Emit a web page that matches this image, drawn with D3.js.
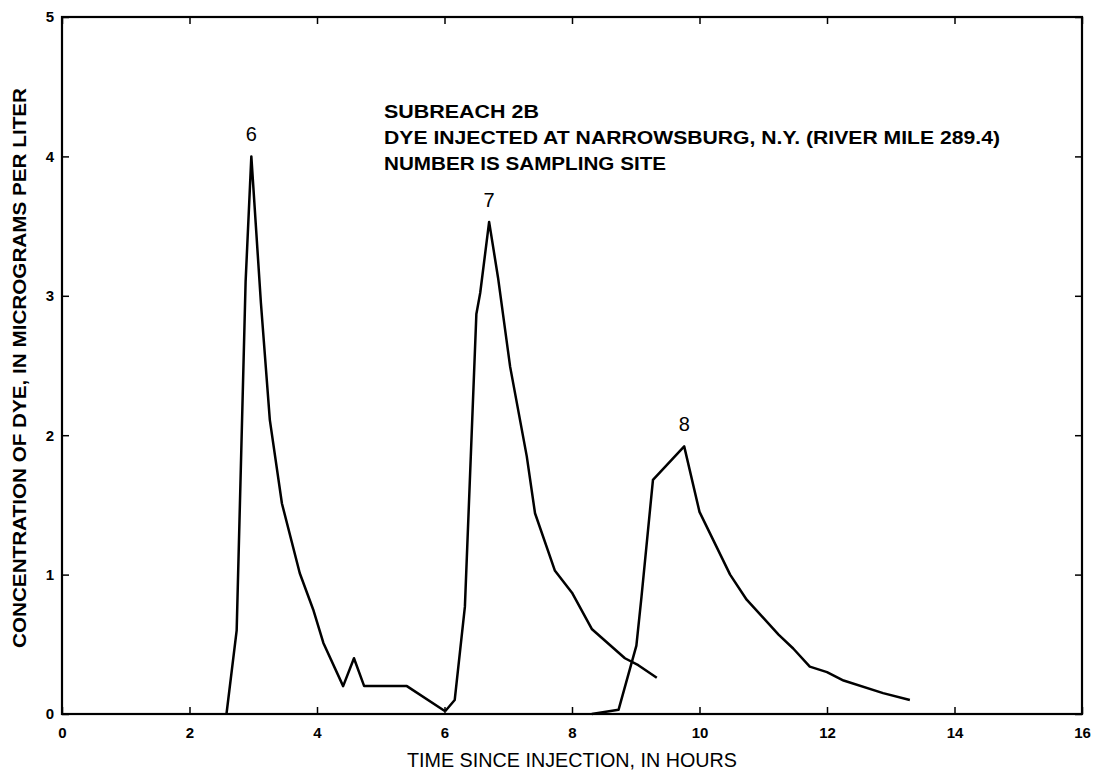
<!DOCTYPE html>
<html>
<head>
  <meta charset="utf-8" />
  <script src="https://d3js.org/d3.v7.min.js"></script>
</head>
<style>
body { margin: 0; background: #fff; }
text { font-family: "Liberation Sans", Arial, sans-serif; fill: #000; }
</style>
<body>
<div id="viz"></div>
<script>
'use strict';

// hours since injection / concentration (micrograms per liter)
const site6Time = [2.58, 2.74, 2.88, 2.97, 3.12, 3.26, 3.45, 3.73, 3.94, 4.10, 4.41, 4.58, 4.74, 5.41, 6.01];
const site6Conc = [0.0, 0.6, 3.1, 4.0, 2.95, 2.11, 1.51, 1.01, 0.75, 0.51, 0.20, 0.40, 0.20, 0.20, 0.02];

const site7Time = [6.01, 6.16, 6.32, 6.50, 6.56, 6.70, 6.84, 7.03, 7.29, 7.42, 7.73, 8.00, 8.31, 8.83, 9.04, 9.33];
const site7Conc = [0.02, 0.10, 0.77, 2.87, 3.02, 3.53, 3.13, 2.49, 1.85, 1.44, 1.03, 0.87, 0.61, 0.40, 0.35, 0.26];

const site8Time = [8.31, 8.73, 9.01, 9.09, 9.27, 9.76, 10.0, 10.48, 10.74, 11.24, 11.47, 11.73, 12.0, 12.26, 12.88, 13.30];
const site8Conc = [0.0, 0.03, 0.49, 0.84, 1.68, 1.92, 1.45, 1.0, 0.82, 0.57, 0.47, 0.34, 0.30, 0.24, 0.15, 0.10];

const sites = ['6', '7', '8'];
const xTicks = [0, 2, 4, 6, 8, 10, 12, 14, 16];
const yTicks = [0, 1, 2, 3, 4, 5];

const noteLines = [
  'SUBREACH 2B',
  'DYE INJECTED AT NARROWSBURG, N.Y. (RIVER MILE 289.4)',
  'NUMBER IS SAMPLING SITE'
];

const series = [
  {name: sites[0], t: site6Time, c: site6Conc},
  {name: sites[1], t: site7Time, c: site7Conc},
  {name: sites[2], t: site8Time, c: site8Conc},
];

const width = 1099, height = 771;
const margin = {top: 17, right: 17, bottom: 57, left: 62};

const svg = d3.select('#viz').append('svg')
  .attr('width', width)
  .attr('height', height);

const x = d3.scaleLinear().domain([0, 16]).range([margin.left, width - margin.right]);
const y = d3.scaleLinear().domain([0, 5]).range([height - margin.bottom, margin.top]);

// inward ticks on all four sides
const tickLen = 7;
svg.append('g')
  .attr('transform', 'translate(0,' + y(0) + ')')
  .call(d3.axisBottom(x).tickValues(xTicks).tickSize(-tickLen).tickPadding(13).tickFormat(d3.format('d')))
  .call(g => g.select('.domain').remove());
svg.append('g')
  .attr('transform', 'translate(0,' + y(5) + ')')
  .call(d3.axisTop(x).tickValues(xTicks).tickSize(-tickLen).tickFormat(''))
  .call(g => g.select('.domain').remove());
svg.append('g')
  .attr('transform', 'translate(' + x(0) + ',0)')
  .call(d3.axisLeft(y).tickValues(yTicks).tickSize(-tickLen).tickPadding(8).tickFormat(d3.format('d')))
  .call(g => g.select('.domain').remove());
svg.append('g')
  .attr('transform', 'translate(' + x(16) + ',0)')
  .call(d3.axisRight(y).tickValues(yTicks).tickSize(-tickLen).tickFormat(''))
  .call(g => g.select('.domain').remove());

svg.selectAll('.tick line').attr('stroke', '#000').attr('stroke-width', 1.5);
svg.selectAll('.tick text')
  .style('font-family', '"Liberation Sans", Arial, sans-serif')
  .style('font-size', '15px')
  .style('font-weight', 'bold')
  .attr('fill', '#000');

// frame
svg.append('rect')
  .attr('x', x(0)).attr('y', y(5))
  .attr('width', x(16) - x(0)).attr('height', y(0) - y(5))
  .attr('fill', 'none').attr('stroke', '#000').attr('stroke-width', 2.2);

const line = d3.line()
  .x(d => x(d[0]))
  .y(d => y(d[1]));

svg.selectAll('path.curve').data(series)
  .enter().append('path')
  .attr('class', 'curve')
  .attr('d', s => line(s.t.map((t, i) => [t, s.c[i]])))
  .attr('fill', 'none')
  .attr('stroke', '#000')
  .attr('stroke-width', 2.5)
  .attr('stroke-linejoin', 'round');

// site number above each peak
svg.selectAll('text.site').data(series)
  .enter().append('text')
  .attr('class', 'site')
  .attr('x', s => x(s.t[d3.maxIndex(s.c)]))
  .attr('y', s => y(d3.max(s.c)) - 15)
  .attr('text-anchor', 'middle')
  .style('font-size', '20px')
  .text(s => s.name);

// note
const noteWidths = [155, 616, 282];
svg.append('g').selectAll('text').data(noteLines)
  .enter().append('text')
  .attr('x', 384)
  .attr('y', (d, i) => 118 + i * 26)
  .attr('textLength', (d, i) => noteWidths[i])
  .attr('lengthAdjust', 'spacingAndGlyphs')
  .style('font-size', '19px')
  .style('font-weight', 'bold')
  .text(d => d);

svg.append('text')
  .attr('x', (x(0) + x(16)) / 2)
  .attr('y', 767)
  .attr('text-anchor', 'middle')
  .attr('textLength', 330)
  .attr('lengthAdjust', 'spacingAndGlyphs')
  .style('font-size', '20px')
  .text('TIME SINCE INJECTION, IN HOURS');

svg.append('text')
  .attr('transform', 'translate(26,368) rotate(-90)')
  .attr('text-anchor', 'middle')
  .attr('textLength', 560)
  .attr('lengthAdjust', 'spacingAndGlyphs')
  .style('font-size', '19px')
  .style('font-weight', 'bold')
  .text('CONCENTRATION OF DYE, IN MICROGRAMS PER LITER');
</script>
</body>
</html>
